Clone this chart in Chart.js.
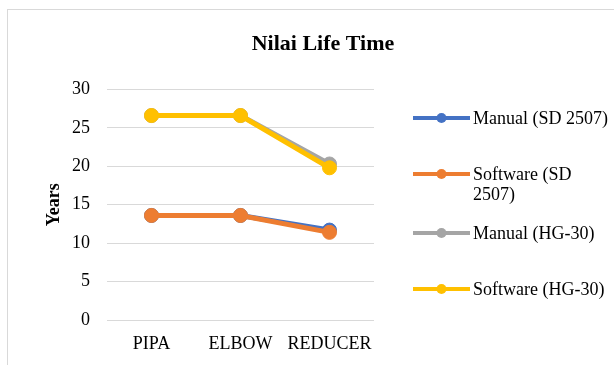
<!DOCTYPE html>
<html>
<head>
<meta charset="utf-8">
<script src="https://cdn.jsdelivr.net/npm/chart.js@4.4.0/dist/chart.umd.min.js"></script>
<style>
  html, body { margin: 0; padding: 0; background: #fff; overflow: hidden; }
  #wrap { position: relative; width: 614px; height: 365px; }
  #frame { position: absolute; left: 7px; top: 9px; width: 700px; height: 400px; border: 1px solid #d9d9d9; box-sizing: border-box; }
  canvas { position: absolute; left: 0; top: 0; }
</style>
</head>
<body>
<div id="wrap">
  <div id="frame"></div>
  <canvas id="myChart" width="614" height="365"></canvas>
</div>
<script>
const categories = ['PIPA', 'ELBOW', 'REDUCER'];
const manualSD = [13.6, 13.6, 11.7];
const softwareSD = [13.6, 13.6, 11.4];
const manualHG = [26.6, 26.6, 20.3];
const softwareHG = [26.6, 26.6, 19.8];
const seriesNames = ['Manual (SD 2507)', 'Software (SD 2507)', 'Manual (HG-30)', 'Software (HG-30)'];
const yTicks = [0, 5, 10, 15, 20, 25, 30];

const colors = ['#4472C4', '#ED7D31', '#A5A5A5', '#FFC000'];
const FONT = "'Liberation Serif', 'Times New Roman', serif";

Chart.defaults.font.family = FONT;
Chart.defaults.font.size = 18;
Chart.defaults.color = '#000';

// wrap legend text into lines that fit maxWidth
function wrapText(ctx, text, maxWidth) {
    const words = text.split(' ');
    const lines = [];
    let line = '';
    words.forEach(w => {
        const test = line ? line + ' ' + w : w;
        if (line && ctx.measureText(test).width > maxWidth) {
            lines.push(line);
            line = w;
        } else {
            line = test;
        }
    });
    if (line) lines.push(line);
    return lines;
}

// legend on the right, drawn like the Excel one
const sideLegend = {
    id: 'sideLegend',
    afterDraw(chart, args, opts) {
        const ctx = chart.ctx;
        ctx.save();
        ctx.font = '18px ' + FONT;
        chart.data.datasets.forEach((ds, i) => {
            const y = opts.rows[i];
            ctx.strokeStyle = ds.borderColor;
            ctx.lineWidth = 4;
            ctx.beginPath();
            ctx.moveTo(opts.x, y);
            ctx.lineTo(opts.x + opts.lineLen, y);
            ctx.stroke();
            ctx.fillStyle = ds.borderColor;
            ctx.beginPath();
            ctx.arc(opts.x + opts.lineLen / 2, y, 5, 0, Math.PI * 2);
            ctx.fill();

            ctx.fillStyle = '#000';
            ctx.textAlign = 'left';
            ctx.textBaseline = 'middle';
            const lines = wrapText(ctx, ds.label, opts.maxWidth);
            lines.forEach((ln, k) => ctx.fillText(ln, opts.textX, y + 1 + k * opts.lineHeight));
        });
        ctx.restore();
    }
};

const seriesData = [manualSD, softwareSD, manualHG, softwareHG];
const drawOrder = [1, 0, 1, 0];

const ctx = document.getElementById('myChart').getContext('2d');
const myChart = new Chart(ctx, {
    type: 'line',
    data: {
        labels: categories,
        datasets: seriesData.map((d, i) => ({
            label: seriesNames[i],
            data: d,
            borderColor: colors[i],
            backgroundColor: colors[i],
            borderWidth: 5,
            pointRadius: 7,
            pointBorderWidth: 1,
            pointHoverRadius: 7,
            order: drawOrder[i],
            tension: 0
        }))
    },
    options: {
        responsive: false,
        animation: false,
        devicePixelRatio: 1,
        layout: { padding: { left: 32, right: 0, top: 0, bottom: 10 } },
        plugins: {
            legend: { display: false },
            tooltip: { enabled: false },
            title: {
                display: true,
                text: 'Nilai Life Time',
                color: '#000',
                font: { family: FONT, size: 22, weight: 'bold' },
                padding: { top: 31, bottom: 32 }
            },
            sideLegend: {
                x: 413,
                lineLen: 57,
                textX: 473,
                maxWidth: 141,
                lineHeight: 20,
                rows: [118, 174, 233, 289]
            }
        },
        scales: {
            x: {
                offset: true,
                grid: { display: false },
                border: { display: false },
                ticks: { padding: 5, color: '#000', maxRotation: 0, minRotation: 0, autoSkip: false },
                afterFit: s => { s.height = 35; }
            },
            y: {
                min: 0,
                max: 30,
                afterBuildTicks: axis => { axis.ticks = yTicks.map(v => ({ value: v })); },
                grid: { color: '#d9d9d9', lineWidth: 1, drawTicks: false },
                border: { display: false },
                ticks: { padding: 17, color: '#000' },
                title: {
                    display: true,
                    text: 'Years',
                    color: '#000',
                    font: { family: FONT, size: 18, weight: 'bold' },
                    padding: { top: 12, bottom: 0 }
                },
                afterFit: s => { s.width = 75; }
            },
            y2: {
                position: 'right',
                grid: { display: false },
                border: { display: false },
                ticks: { display: false },
                afterFit: s => { s.width = 240; }
            }
        }
    },
    plugins: [sideLegend]
});
</script>
</body>
</html>
